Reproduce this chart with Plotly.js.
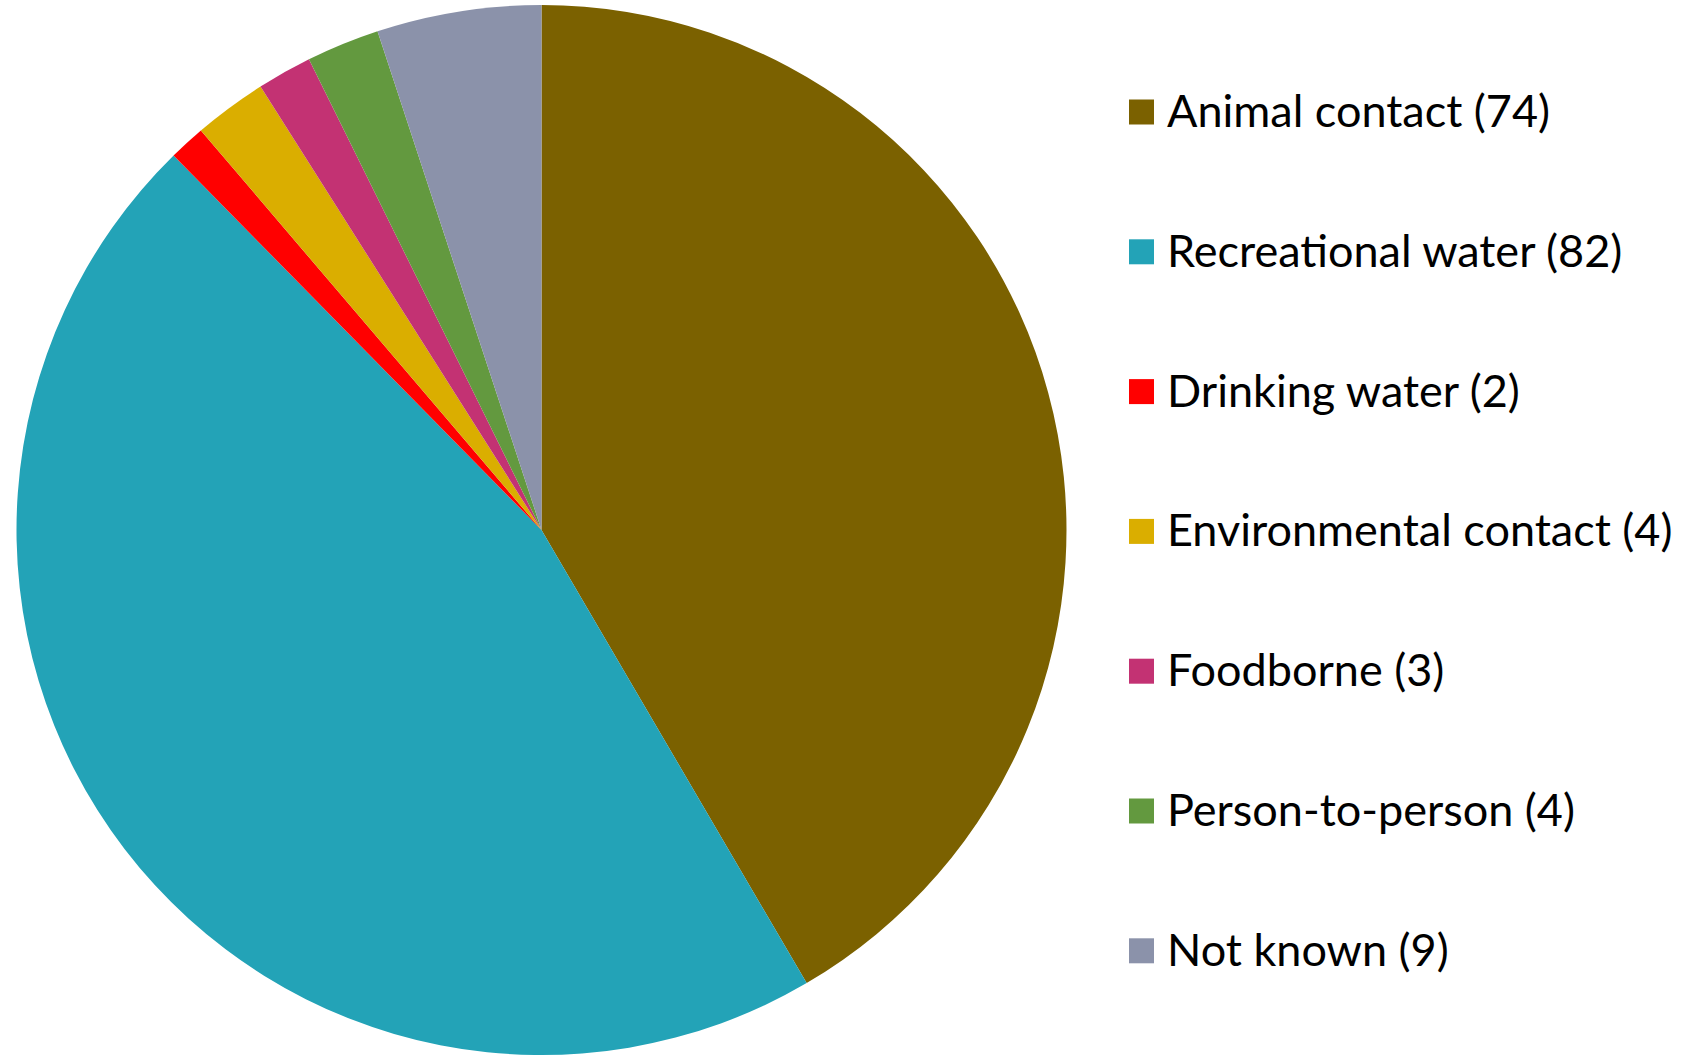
<!DOCTYPE html>
<html>
<head>
<meta charset="utf-8">
<script src="https://cdn.plot.ly/plotly-3.0.1.min.js"></script>
<style>html,body{margin:0;padding:0;background:#fff;}#chart{width:1682px;height:1057px;}</style>
</head>
<body>
<div id="chart"></div>
<script>
const categories = ["Animal contact", "Recreational water", "Drinking water", "Environmental contact", "Foodborne", "Person-to-person", "Not known"];
const counts = [74, 82, 2, 4, 3, 4, 9];
const colors = ["#7B6100", "#23A3B7", "#FF0000", "#DAAE00", "#C33273", "#63993F", "#8B92AA"];

const W = 1682, H = 1057;
const legendX = 1129;      // swatch left edge, px
const legendTop = 112;     // first row centre, px
const legendStep = 139.8;  // row spacing, px

const labels = categories.map((c, i) => `${c} (${counts[i]})`);

const trace = {
  type: "pie",
  labels: labels,
  values: counts,
  sort: false,
  direction: "clockwise",
  rotation: 0,
  textinfo: "none",
  hoverinfo: "label+value+percent",
  marker: { colors: colors, line: { width: 0 } },
  domain: { x: [16.5 / W, 1066.5 / W], y: [2 / H, 1052 / H] },
  showlegend: false
};

const shapes = [];
const annotations = [];
categories.forEach((c, i) => {
  const yc = 1 - (legendTop + i * legendStep) / H;
  shapes.push({
    type: "rect", xref: "paper", yref: "paper",
    xsizemode: "pixel", ysizemode: "pixel",
    xanchor: legendX / W, yanchor: yc,
    x0: 0, x1: 25, y0: -12.5, y1: 12.5,
    fillcolor: colors[i], line: { width: 0 }
  });
  annotations.push({
    xref: "paper", yref: "paper",
    x: 1165 / W, y: yc, xanchor: "left", yanchor: "middle", yshift: 2,
    text: labels[i], showarrow: false,
    font: { family: "Lato, 'Open Sans', sans-serif", size: 45, color: "#000" }
  });
});

const layout = {
  width: W, height: H,
  margin: { l: 0, r: 0, t: 0, b: 0 },
  paper_bgcolor: "#fff",
  shapes: shapes,
  annotations: annotations
};

Plotly.newPlot("chart", [trace], layout, { displayModeBar: false, staticPlot: true });
</script>
</body>
</html>
